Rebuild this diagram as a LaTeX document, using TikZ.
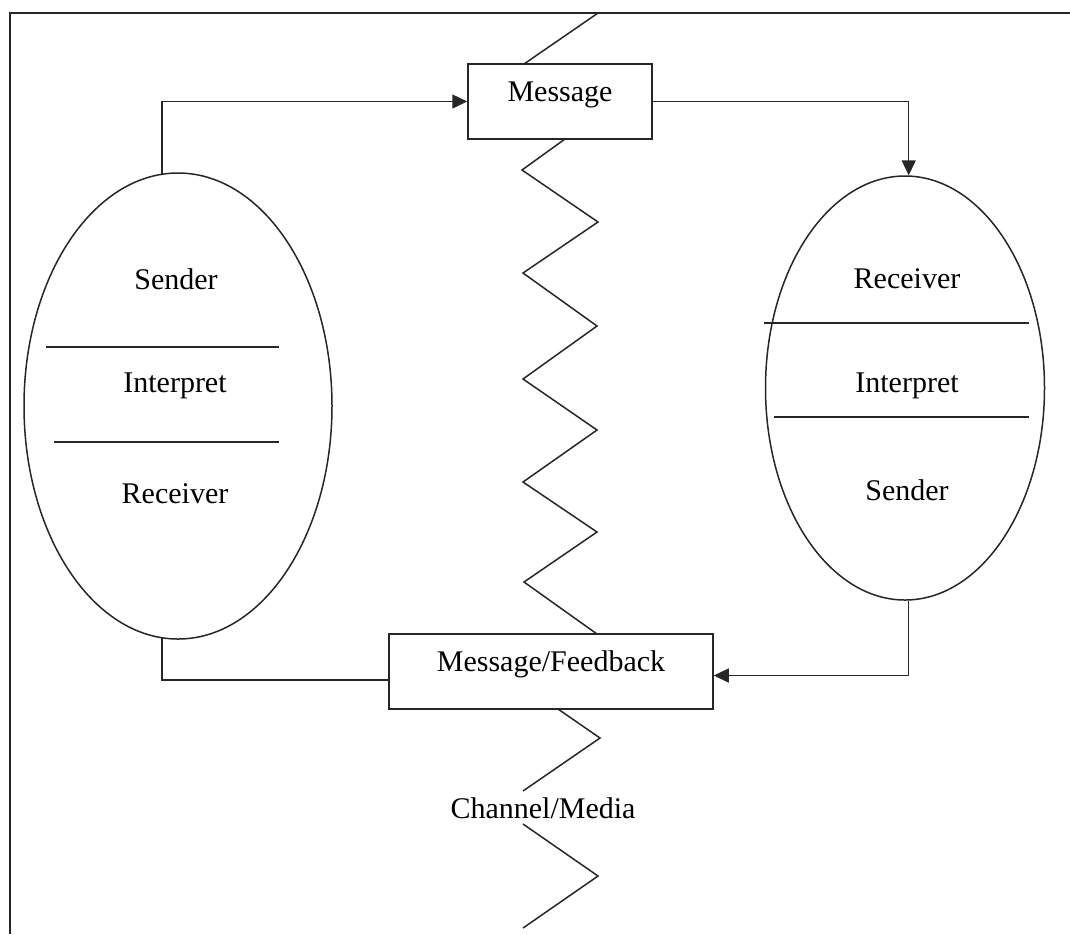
\documentclass[tikz,border=0pt]{standalone}
\usepackage{fontspec}
\setmainfont{Liberation Serif}
\usetikzlibrary{shapes.geometric,arrows.meta}

\tikzset{
  ln/.style={draw=black!85, line width=0.75pt},
  arr/.style={ln, -{Triangle[length=7.5pt,width=7pt]}},
  boxnode/.style={ln, fill=white, rectangle, inner sep=0pt,
    text height=10pt, text depth=10pt, font=\fontsize{15}{18}\selectfont},
  oval/.style={ln, ellipse, inner sep=0pt},
  lbl/.style={inner sep=0pt, font=\fontsize{15}{18}\selectfont},
}

\begin{document}
\begin{tikzpicture}[x=0.5pt, y=-0.5pt]
  \useasboundingbox (0,0) rectangle (1070,934);

  % outer frame (only top and left edges fall inside the page)
  \draw[ln] (10,934) -- (10,13) -- (1070,13);

  % channel zigzag
  \draw[ln] (598,13) -- (524,64);
  \draw[ln] (565,139) -- (522,170) -- (598,222) -- (523,273) -- (597,326)
    -- (523,379) -- (597,430) -- (523,482) -- (597,532) -- (524,582) -- (597,634);
  \draw[ln] (558,709) -- (600,738) -- (523,791);
  \draw[ln] (523,824) -- (598,876) -- (523,928);
  \node[lbl] (chan) at (543,808) {Channel/Media};

  % message boxes
  \node[boxnode, minimum width=92pt, minimum height=37.5pt] (msg) at (560,101.5) {Message};
  \node[boxnode, minimum width=162pt, minimum height=37.5pt] (fb) at (551,671.5) {Message/Feedback};

  % left party
  \node[oval, minimum width=154pt, minimum height=233pt] (lell) at (178,406) {};
  \node[lbl] (ls) at (176,279) {Sender};
  \node[lbl] (li) at (175,386) {Interpret};
  \node[lbl] (lr) at (175,494) {Receiver};
  \coordinate (la1) at (46,347);  \coordinate (lb1) at (279,347);
  \coordinate (la2) at (54,442);  \coordinate (lb2) at (279,442);
  \draw[ln] (la1) -- (lb1);
  \draw[ln] (la2) -- (lb2);

  % right party
  \node[oval, minimum width=139.5pt, minimum height=212pt] (rell) at (905,388) {};
  \node[lbl] (rr) at (907,279) {Receiver};
  \node[lbl] (ri) at (907,386) {Interpret};
  \node[lbl] (rs) at (907,490) {Sender};
  \coordinate (ra1) at (764,323);  \coordinate (rb1) at (1029,323);
  \coordinate (ra2) at (774,417);  \coordinate (rb2) at (1029,417);
  \draw[ln] (ra1) -- (rb1);
  \draw[ln] (ra2) -- (rb2);

  % flow connectors
  \draw[arr] (lell.94) |- (msg.west);
  \draw[arr] (msg.east) -| (rell.89);
  \draw[arr] (rell.271) |- ([yshift=-2pt]fb.east);
  \draw[ln] (lell.266) |- ([yshift=-4.25pt]fb.west);
\end{tikzpicture}
\end{document}
